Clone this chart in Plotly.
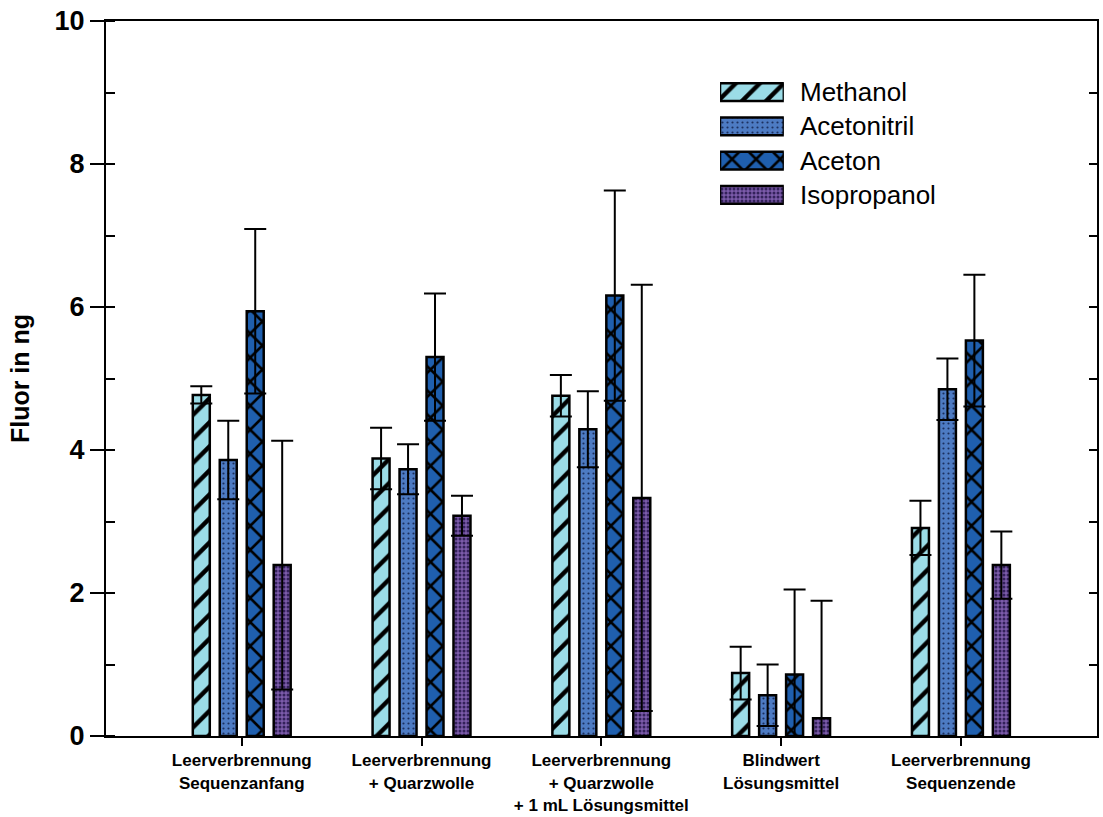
import plotly.graph_objects as go

# Sample groups (x axis)
categories = [
    "Leerverbrennung<br>Sequenzanfang",
    "Leerverbrennung<br>+ Quarzwolle",
    "Leerverbrennung<br>+ Quarzwolle<br>+ 1 mL Lösungsmittel",
    "Blindwert<br>Lösungsmittel",
    "Leerverbrennung<br>Sequenzende",
]

# Fluorine amounts in ng and their standard deviations
methanol = [4.77, 3.88, 4.76, 0.88, 2.91]
methanol_err = [0.12, 0.43, 0.29, 0.37, 0.38]
acetonitril = [3.86, 3.73, 4.29, 0.57, 4.85]
acetonitril_err = [0.55, 0.35, 0.53, 0.43, 0.43]
aceton = [5.94, 5.30, 6.16, 0.86, 5.53]
aceton_err = [1.15, 0.89, 1.47, 1.19, 0.92]
isopropanol = [2.39, 3.08, 3.33, 0.25, 2.39]
isopropanol_err = [1.74, 0.28, 2.98, 1.64, 0.47]

y_ticks = [0, 2, 4, 6, 8, 10]
series_names = ["Methanol", "Acetonitril", "Aceton", "Isopropanol"]

styles = {
    "Methanol": dict(color="#9BDCE7", pattern=dict(shape="/", fgcolor="black", size=17, solidity=0.26)),
    "Acetonitril": dict(color="#4D7BC3", pattern=dict(shape=".", fgcolor="#1b2f5e", size=5, solidity=0.15)),
    "Aceton": dict(color="#1F5FAE", pattern=dict(shape="x", fgcolor="black", size=17, solidity=0.28)),
    "Isopropanol": dict(color="#7C5BAA", pattern=dict(shape=".", fgcolor="#33215a", size=4, solidity=0.45)),
}

values = {
    "Methanol": (methanol, methanol_err),
    "Acetonitril": (acetonitril, acetonitril_err),
    "Aceton": (aceton, aceton_err),
    "Isopropanol": (isopropanol, isopropanol_err),
}

fig = go.Figure()
xpos = list(range(len(categories)))

for name in series_names:
    vals, errs = values[name]
    st = styles[name]
    fig.add_trace(go.Bar(
        x=xpos, y=vals, name=name, showlegend=False,
        marker=dict(color=st["color"], line=dict(color="black", width=2.5),
                    pattern=dict(fillmode="replace", bgcolor=st["color"], **st["pattern"])),
        error_y=dict(type="data", array=errs, visible=True, color="black",
                     thickness=2, width=11),
    ))

# Legend: wide pattern swatches on a small overlay axis, labels beside them
leg_x0, leg_x1 = 0.6196, 0.684
leg_y0, leg_y1 = 0.733, 0.9245
n = len(series_names)
for i, name in enumerate(series_names):
    st = styles[name]
    fig.add_trace(go.Bar(
        x=[1], y=[i], base=0, orientation="h", width=0.52, showlegend=False,
        xaxis="x2", yaxis="y2", hoverinfo="skip",
        marker=dict(color=st["color"], line=dict(color="black", width=2.5),
                    pattern=dict(fillmode="replace", bgcolor=st["color"], **st["pattern"])),
    ))
    row_y = leg_y1 - (i + 0.5) * (leg_y1 - leg_y0) / n
    fig.add_annotation(x=leg_x1 + 0.014, y=row_y, xref="paper", yref="paper", text=name,
                       showarrow=False, xanchor="left", yanchor="middle",
                       font=dict(family="Liberation Sans, Arial", size=26, color="black"))

# Invisible trace carrying the right-hand axis
fig.add_trace(go.Scatter(x=[None], y=[None], yaxis="y3", showlegend=False, hoverinfo="skip"))

fig.update_layout(
    width=1103, height=817,
    margin=dict(l=106, r=6, t=21, b=81),
    paper_bgcolor="white", plot_bgcolor="white",
    barmode="group", bargap=0.4, bargroupgap=0.37,
    font=dict(family="Liberation Sans, Arial", color="black"),
    xaxis=dict(
        range=[-0.755, 4.757], tickmode="array", tickvals=xpos, ticktext=categories,
        ticks="outside", ticklen=8, tickwidth=2, tickcolor="black",
        showline=True, linecolor="black", linewidth=2, mirror=True,
        showgrid=False, zeroline=False, automargin=False,
        tickfont=dict(family="Liberation Sans, Arial", size=17,
                      color="black", weight="bold"),
    ),
    yaxis=dict(
        range=[0, 10], tickmode="array", tickvals=y_ticks, ticktext=[str(v) for v in y_ticks],
        ticks="outside", ticklen=14, tickwidth=2, tickcolor="black",
        minor=dict(ticks="inside", ticklen=9, tickwidth=2, tickcolor="black", dtick=1, showgrid=False),
        showline=True, linecolor="black", linewidth=2,
        showgrid=False, zeroline=False, automargin=False,
        tickfont=dict(family="Liberation Sans, Arial", size=27, color="black", weight="bold"),
        title=dict(text="Fluor in ng", standoff=18,
                   font=dict(family="Liberation Sans, Arial", size=25, color="black", weight="bold")),
    ),
    yaxis3=dict(
        range=[0, 10], overlaying="y", side="right", dtick=1,
        ticks="inside", ticklen=8, tickwidth=2, tickcolor="black",
        showline=True, linecolor="black", linewidth=2, automargin=False,
        showticklabels=False, showgrid=False, zeroline=False,
    ),
    xaxis2=dict(domain=[leg_x0, leg_x1], range=[0, 1], anchor="y2",
                visible=False, fixedrange=True),
    yaxis2=dict(domain=[leg_y0, leg_y1], range=[n - 0.5, -0.5], anchor="x2",
                visible=False, fixedrange=True),
)

fig.write_html("out.html")
